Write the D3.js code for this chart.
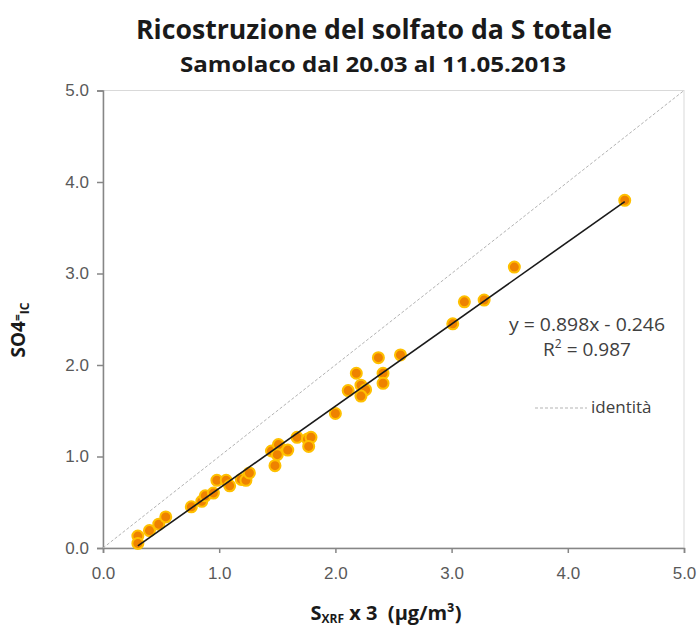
<!DOCTYPE html>
<html>
  <head>
    <meta charset="utf-8" />
    <script src="https://d3js.org/d3.v7.min.js"></script>
    <style>
      body {
        margin: 0px;
        background: white;
        font-family: 'Open Sans', sans-serif;
      }
      .tick text {
        fill: #595959;
        font-size: 17px;
      }
    </style>
  </head>
  <body>
    <script>
      // S_XRF x 3 (x) vs SO4 from IC (y), µg/m3
      const sxrf = [0.30, 0.30, 0.40, 0.48, 0.54, 0.76, 0.85, 0.88, 0.95, 0.98,
        1.06, 1.09, 1.19, 1.23, 1.26, 1.48, 1.45, 1.51, 1.50, 1.59,
        1.67, 1.76, 1.79, 1.77, 2.00, 2.11, 2.18, 2.22, 2.26, 2.22,
        2.37, 2.41, 2.41, 2.56, 3.01, 3.11, 3.28, 3.54, 4.49];
      const so4ic = [0.13, 0.05, 0.19, 0.26, 0.34, 0.45, 0.51, 0.57, 0.60, 0.74,
        0.74, 0.68, 0.75, 0.74, 0.82, 0.90, 1.06, 1.13, 1.02, 1.07,
        1.21, 1.19, 1.21, 1.11, 1.47, 1.72, 1.91, 1.78, 1.73, 1.66,
        2.08, 1.91, 1.80, 2.11, 2.45, 2.69, 2.71, 3.07, 3.80];
      const trend = [0.898, -0.246]; // slope, intercept
      const r2 = 0.987;
      const ticks = [0, 1, 2, 3, 4, 5];

      const width = 700;
      const height = 630;
      const margin = { left: 103, right: 16, top: 90.5, bottom: 82 };
      const innerWidth = width - margin.left - margin.right;
      const innerHeight = height - margin.top - margin.bottom;

      const svg = d3.select('body').append('svg')
        .attr('width', width)
        .attr('height', height);

      svg.append('text')
        .attr('x', 374).attr('y', 39)
        .attr('text-anchor', 'middle')
        .attr('font-size', 26).attr('font-weight', 'bold')
        .attr('fill', '#1a1a1a')
        .attr('textLength', 476).attr('lengthAdjust', 'spacingAndGlyphs')
        .text('Ricostruzione del solfato da S totale');

      svg.append('text')
        .attr('x', 373).attr('y', 72)
        .attr('text-anchor', 'middle')
        .attr('font-size', 22).attr('font-weight', 'bold')
        .attr('fill', '#1a1a1a')
        .attr('textLength', 386).attr('lengthAdjust', 'spacingAndGlyphs')
        .text('Samolaco dal 20.03 al 11.05.2013');

      const g = svg.append('g')
        .attr('transform', `translate(${margin.left},${margin.top})`);

      const xScale = d3.scaleLinear().domain([0, 5]).range([0, innerWidth]);
      const yScale = d3.scaleLinear().domain([0, 5]).range([innerHeight, 0]);

      // plot frame
      g.append('rect')
        .attr('width', innerWidth).attr('height', innerHeight)
        .attr('fill', 'none').attr('stroke', '#d9d9d9');

      const xAxisG = g.append('g')
        .attr('transform', `translate(0,${innerHeight})`)
        .call(d3.axisBottom(xScale).tickValues(ticks).tickFormat(d3.format('.1f'))
          .tickSize(5).tickPadding(14));
      const yAxisG = g.append('g')
        .call(d3.axisLeft(yScale).tickValues(ticks).tickFormat(d3.format('.1f'))
          .tickSize(6).tickPadding(8));
      [xAxisG, yAxisG].forEach((a) => {
        a.selectAll('.domain').attr('stroke', '#868686').attr('stroke-width', 1.5);
        a.selectAll('.tick line').attr('stroke', '#868686').attr('stroke-width', 1.5);
      });

      // identity line
      g.append('line')
        .attr('x1', xScale(0)).attr('y1', yScale(0))
        .attr('x2', xScale(5)).attr('y2', yScale(5))
        .attr('stroke', '#b3b3b3').attr('stroke-width', 1)
        .attr('stroke-dasharray', '3,2');

      const [xmin, xmax] = d3.extent(sxrf);

      // points
      g.selectAll('circle').data(sxrf.map((d, i) => [d, so4ic[i]]))
        .join('circle')
        .attr('cx', (d) => xScale(d[0]))
        .attr('cy', (d) => yScale(d[1]))
        .attr('r', 5.5)
        .attr('fill', '#ee8200')
        .attr('stroke', '#ffc000')
        .attr('stroke-width', 2);

      // trend line over data range, on top of points
      g.append('line')
        .attr('x1', xScale(xmin)).attr('y1', yScale(trend[0] * xmin + trend[1]))
        .attr('x2', xScale(xmax)).attr('y2', yScale(trend[0] * xmax + trend[1]))
        .attr('stroke', '#1a1a1a').attr('stroke-width', 1.6);

      // equation
      svg.append('text')
        .attr('x', 587).attr('y', 331)
        .attr('text-anchor', 'middle')
        .attr('font-size', 19).attr('fill', '#404040')
        .attr('textLength', 156).attr('lengthAdjust', 'spacingAndGlyphs')
        .text(`y = ${trend[0].toFixed(3)}x - ${Math.abs(trend[1]).toFixed(3)}`);
      const r2Text = svg.append('text')
        .attr('x', 587).attr('y', 356)
        .attr('text-anchor', 'middle')
        .attr('font-size', 19).attr('fill', '#404040');
      r2Text.append('tspan').text('R');
      r2Text.append('tspan').attr('font-size', 12).attr('dy', -8).text('2');
      r2Text.append('tspan').attr('dy', 8).text(` = ${r2.toFixed(3)}`);

      // legend
      svg.append('line')
        .attr('x1', 535).attr('x2', 587).attr('y1', 408).attr('y2', 408)
        .attr('stroke', '#b3b3b3').attr('stroke-dasharray', '3,2');
      svg.append('text')
        .attr('x', 591).attr('y', 413)
        .attr('font-size', 17).attr('fill', '#404040')
        .text('identità');

      // axis labels
      const xLabel = svg.append('text')
        .attr('x', 386).attr('y', 620)
        .attr('text-anchor', 'middle')
        .attr('font-size', 20).attr('font-weight', 'bold')
        .attr('fill', '#1a1a1a');
      xLabel.append('tspan').text('S');
      xLabel.append('tspan').attr('font-size', 12).attr('dy', 3).text('XRF');
      xLabel.append('tspan').attr('dy', -3).text(' x 3 \u00a0(µg/m³)');

      const yLabel = svg.append('text')
        .attr('transform', 'translate(25,330) rotate(-90)')
        .attr('text-anchor', 'middle')
        .attr('font-size', 19).attr('font-weight', 'bold')
        .attr('fill', '#1a1a1a');
      yLabel.append('tspan').text('SO4');
      yLabel.append('tspan').attr('font-size', 12).attr('dy', -3).text('=');
      yLabel.append('tspan').attr('font-size', 12).attr('dy', 7).text('IC');
    </script>
  </body>
</html>
